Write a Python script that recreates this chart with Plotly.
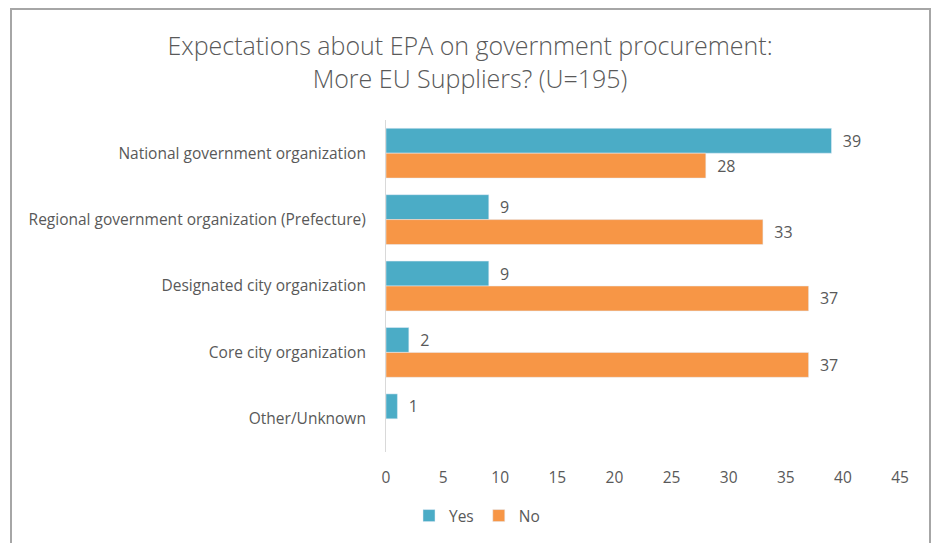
import plotly.graph_objects as go

categories = ["National government organization",
              "Regional government organization (Prefecture)",
              "Designated city organization",
              "Core city organization",
              "Other/Unknown"]
yes_values = [39, 9, 9, 2, 1]
no_values = [28, 33, 37, 37, None]
x_ticks = [0, 5, 10, 15, 20, 25, 30, 35, 40, 45]

font_family = "Open Sans, Lato, sans-serif"
grey = "#595959"
fs = 15.5

fig = go.Figure()
fig.add_trace(go.Bar(
    y=categories, x=yes_values, orientation="h", name="Yes",
    marker=dict(color="#4BACC6"),
    text=[f"\u00a0\u00a0{v}" if v is not None else "" for v in yes_values],
    textposition="outside", cliponaxis=False,
    textfont=dict(color=grey, size=fs + 0.5, family=font_family),
))
fig.add_trace(go.Bar(
    y=categories, x=no_values, orientation="h", name="No",
    marker=dict(color="#F79646"),
    text=[f"\u00a0\u00a0{v}" if v is not None else "" for v in no_values],
    textposition="outside", cliponaxis=False,
    textfont=dict(color=grey, size=fs + 0.5, family=font_family),
))

L, R, T, B = 386, 900, 120, 452
W, H = 935, 543
pw, ph = R - L, B - T

def px_x(x):
    return (x - L) / pw

def px_y(y):
    return (B - y) / ph

fig.update_layout(
    width=W, height=H,
    margin=dict(l=L, r=W - R, t=T, b=H - B, autoexpand=False),
    paper_bgcolor="white", plot_bgcolor="white",
    barmode="group", bargap=0.25, bargroupgap=0,
    font=dict(family=font_family, color=grey, size=fs),
    title=dict(
        text="Expectations about EPA on government procurement:<br>More EU Suppliers? (U=195)",
        x=(470) / W, xanchor="center", y=1 - 55 / H, yanchor="middle",
        font=dict(size=25, color=grey, family=font_family, weight=300),
    ),
    xaxis=dict(range=[0, 45], tickvals=x_ticks, showgrid=False, zeroline=False,
               showline=False, ticks="", ticklabelstandoff=14,
               tickfont=dict(size=fs, color=grey)),
    yaxis=dict(autorange="reversed", showline=True, linecolor="#D9D9D9", linewidth=1,
               showgrid=False, ticks="", ticklabelstandoff=16,
               tickfont=dict(size=fs, color=grey)),
    legend=dict(orientation="h", x=px_x(477), xanchor="center", y=px_y(516), yanchor="middle",
                font=dict(size=fs, color=grey), itemwidth=30,
                traceorder="normal"),
    showlegend=True,
    shapes=[dict(type="rect", xref="paper", yref="paper",
                 x0=px_x(11), x1=px_x(930), y0=px_y(600), y1=px_y(9),
                 line=dict(color="#A6A6A6", width=2), fillcolor="rgba(0,0,0,0)", layer="below")],
)

fig.write_html("out.html", config={"displayModeBar": False},
               post_script="document.body.style.margin='0';document.body.style.padding='0';")
